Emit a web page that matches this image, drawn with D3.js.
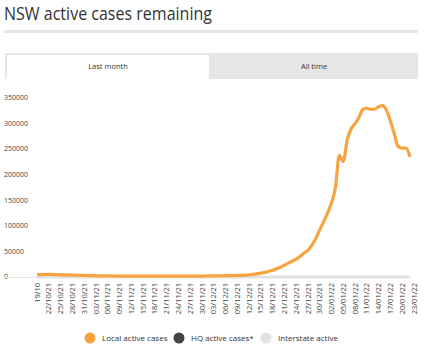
<!DOCTYPE html>
<html lang="en">
  <head>
    <meta charset="UTF-8" />
    <script src="https://cdn.jsdelivr.net/npm/d3@7"></script>
    <style>
      body { margin: 0; background: #fff; }
      text { font-family: "Open Sans", "Noto Sans", sans-serif; fill: #444; }
    </style>
  </head>
  <body>
    <div id="fig"></div>
    <script>
      const width = 424, height = 348;

      // daily values, 19/10/21 .. 23/01/22
      const startDate = new Date(2021, 9, 19);
      const localActive = [
        4800, 4700, 4900, 5200, 4900, 4600, 4400, 4200, 4000, 3800, 3500, 3200, 3000,
        2800, 2600, 2400, 2300, 2200, 2100, 2000, 1900, 1900, 1800, 1800, 1800, 1700, 1700,
        1700, 1800, 1800, 1700, 1700, 1600, 1700, 1800, 1800, 1700, 1800, 1900, 1900, 1900, 1900,
        1900, 2000, 2100, 2200, 2300, 2400, 2500, 2600, 2800, 3000,
        3300, 3700, 4300, 5000, 6000, 7500, 9000, 11000, 13000, 16000,
        19000, 23000, 27000, 31000, 35000, 40000, 47000, 52000, 62000, 75000, 92000,
        108000, 125000, 145000, 175000, 238000, 226000, 268000, 290000, 300000, 312000,
        328000, 330000, 328000, 328000, 333000, 335000, 326000, 305000, 280000, 255000,
        252000, 252000, 235000
      ];
      const interstateActive = [
        0,0,0,0,0,0,0,0,0,0,0,0,0,0,0,0,0,0,0,0,0,0,0,0,0,0,0,0,0,0,0,0,0,
        0,0,0,0,0,0,0,0,0,0,0,0,0,0,0,0,0,0,0,0,0,0,0,0,0,0,0,0,0,0,0,0,0,
        0,0,0,0,0,0,0,0,0,0,0,0,0,0,0,0,0,0,0,0,0,0,0,0,0,0,0,0,0,0,0
      ];
      const tickLabels = [
        "19/10", "22/10/21", "25/10/21", "28/10/21", "31/10/21", "03/11/21", "06/11/21",
        "09/11/21", "12/11/21", "15/11/21", "18/11/21", "21/11/21", "24/11/21", "27/11/21",
        "30/11/21", "03/12/21", "06/12/21", "09/12/21", "12/12/21", "15/12/21", "18/12/21",
        "21/12/21", "24/12/21", "27/12/21", "30/12/21", "02/01/22", "05/01/22", "08/01/22",
        "11/01/22", "14/01/22", "17/01/22", "20/01/22", "23/01/22"
      ];
      const yTicks = [0, 50000, 100000, 150000, 200000, 250000, 300000, 350000];
      const legendItems = [
        { label: "Local active cases", color: "#f7a440" },
        { label: "HQ active cases*", color: "#444444" },
        { label: "Interstate active", color: "#e2e2e2" }
      ];
      const tabs = ["Last month", "All time"];

      const dates = localActive.map((d, i) => d3.timeDay.offset(startDate, i));

      const svg = d3.select("#fig").append("svg")
        .attr("width", width).attr("height", height);

      // title
      svg.append("text").attr("x", 4).attr("y", 20)
        .style("font-size", "17.5px").style("fill", "#333")
        .attr("textLength", 208).attr("lengthAdjust", "spacingAndGlyphs")
        .text("NSW active cases remaining");
      svg.append("rect").attr("x", 4).attr("y", 30).attr("width", 414).attr("height", 3)
        .attr("fill", "#e6e6e6");

      // tabs
      svg.append("rect").attr("x", 5).attr("y", 53).attr("width", 413).attr("height", 26)
        .attr("fill", "#e6e6e6");
      svg.append("rect").attr("x", 7).attr("y", 55).attr("width", 202).attr("height", 24)
        .attr("fill", "#fff");
      svg.selectAll(".tab").data(tabs).join("text")
        .attr("x", (d, i) => i === 0 ? 108 : 314)
        .attr("y", 69)
        .attr("text-anchor", "middle")
        .style("font-size", "7.5px").style("fill", "#333")
        .text(d => d);

      const x = d3.scaleTime()
        .domain([dates[0], dates[dates.length - 1]])
        .range([37, 410]);
      const y = d3.scaleLinear().domain([0, 350000]).range([277, 98]);

      // y labels
      svg.selectAll(".ylab").data(yTicks).join("text")
        .attr("x", 4).attr("y", d => y(d)).attr("dy", "0.32em")
        .style("font-size", "7px").style("fill", "#444")
        .text(d => d);

      // axis line
      svg.append("line").attr("x1", 4).attr("x2", 411)
        .attr("y1", y(0) + 0.5).attr("y2", y(0) + 0.5)
        .attr("stroke", "#e6e6e6").attr("stroke-width", 1);

      // x labels
      const tickDates = tickLabels.map((d, i) => d3.timeDay.offset(startDate, i * 3));
      const xl = svg.selectAll(".xlab").data(tickDates).join("g")
        .attr("transform", d => `translate(${x(d)},283)`);
      xl.append("text")
        .attr("transform", "rotate(-90)")
        .attr("text-anchor", "end")
        .attr("dy", "0.35em")
        .style("font-size", "7.5px").style("fill", "#444")
        .text((d, i) => tickLabels[i]);

      const line = d3.line()
        .x((d, i) => x(dates[i]))
        .y(d => y(d))
        .curve(d3.curveMonotoneX);

      svg.append("path").datum(interstateActive)
        .attr("d", line).attr("fill", "none")
        .attr("stroke", "#e2e2e2").attr("stroke-width", 3);

      svg.append("path").datum(localActive)
        .attr("d", line).attr("fill", "none")
        .attr("stroke", "#f7a440").attr("stroke-width", 3.2)
        .attr("stroke-linejoin", "round");

      // legend
      const legX = [90, 179, 266];
      const lg = svg.selectAll(".leg").data(legendItems).join("g")
        .attr("transform", (d, i) => `translate(${legX[i]},338)`);
      lg.append("circle").attr("r", 5.5).attr("fill", d => d.color);
      lg.append("text").attr("x", 12).attr("dy", "0.35em")
        .style("font-size", "8px").style("fill", "#333")
        .text(d => d.label);
    </script>
  </body>
</html>
